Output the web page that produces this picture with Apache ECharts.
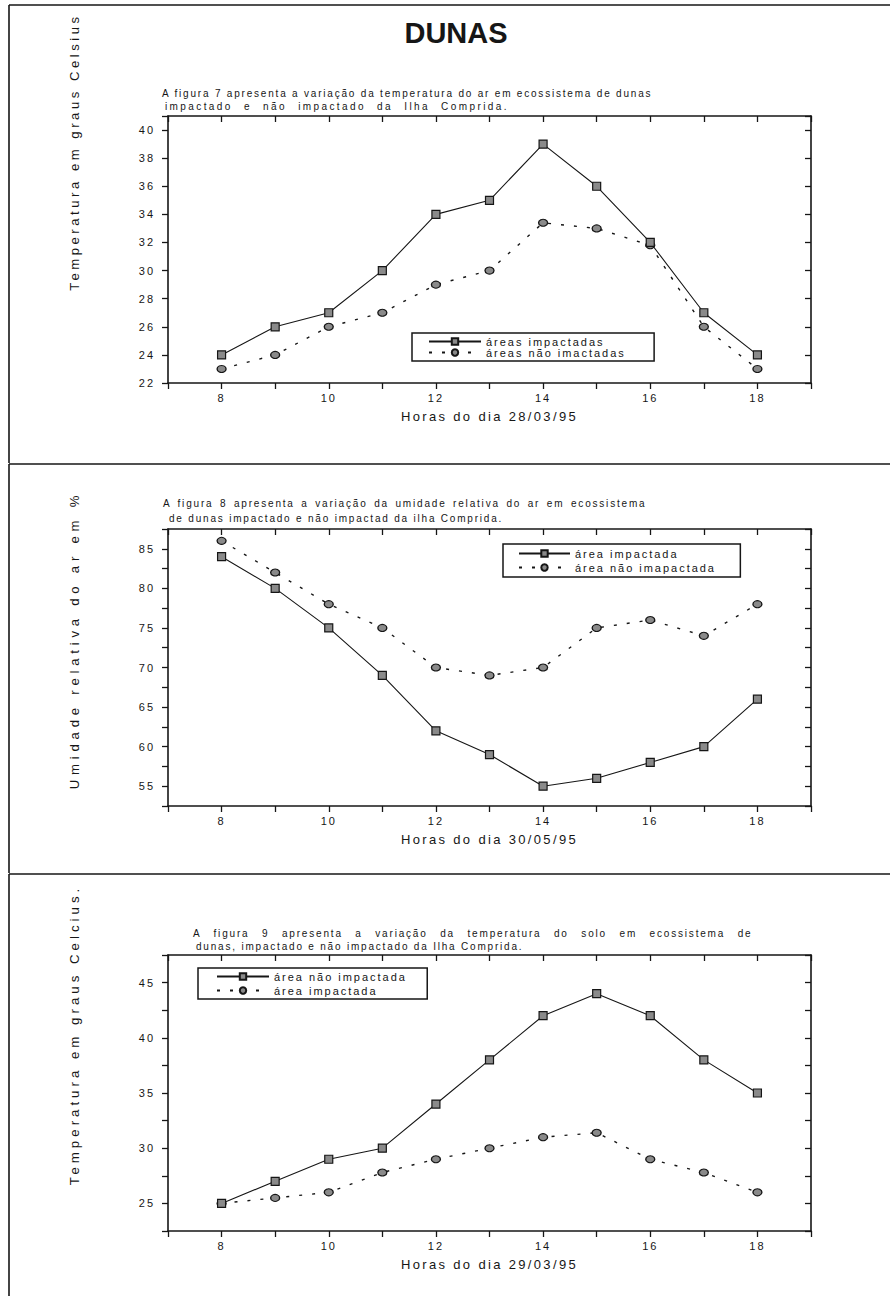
<!DOCTYPE html>
<html><head><meta charset="utf-8">
<script src="https://cdn.jsdelivr.net/npm/echarts@6/dist/echarts.min.js"></script>
<style>
html,body{margin:0;padding:0;background:#fff;width:890px;height:1296px;overflow:hidden}
.p{position:absolute;left:0;width:890px}
.p text{letter-spacing:0.18em}
.p text[style*="bold"]{letter-spacing:0}
.p text[style*="13.1px"]{letter-spacing:0.27em}
.p text[style*="13.2px"]{letter-spacing:0.36em}
.p text[style*="13.3px"]{letter-spacing:0.3em}
.p text[style*="10.01px"]{letter-spacing:0.24em;word-spacing:6px}
.p text[style*="10.02px"]{word-spacing:2px}
.p text[style*="10.03px"]{word-spacing:8px}
</style></head><body>
<div id="c1" class="p" style="top:0;height:463px"></div>
<div id="c2" class="p" style="top:463px;height:410px"></div>
<div id="c3" class="p" style="top:873px;height:423px"></div>
<script>
// ---- data ----
const hours = [8, 9, 10, 11, 12, 13, 14, 15, 16, 17, 18];
const xTickLabels = [8, 10, 12, 14, 16, 18];

const fig7Impacted    = [24, 26, 27, 30, 34, 35, 39, 36, 32, 27, 24];
const fig7NotImpacted = [23, 24, 26, 27, 29, 30, 33.4, 33, 31.8, 26, 23];
const fig7YTicks = [22, 24, 26, 28, 30, 32, 34, 36, 38, 40];

const fig8Impacted    = [84, 80, 75, 69, 62, 59, 55, 56, 58, 60, 66];
const fig8NotImpacted = [86, 82, 78, 75, 70, 69, 70, 75, 76, 74, 78];
const fig8YTicks = [55, 60, 65, 70, 75, 80, 85];

const fig9NotImpacted = [25, 27, 29, 30, 34, 38, 42, 44, 42, 38, 35];
const fig9Impacted    = [25, 25.5, 26, 27.8, 29, 30, 31, 31.4, 29, 27.8, 26];
const fig9YTicks = [25, 30, 35, 40, 45];

const fig7Names = ['áreas impactadas', 'áreas não imactadas'];
const fig8Names = ['área impactada', 'área não imapactada'];
const fig9Names = ['área não impactada', 'área impactada'];

// ---- helpers ----
const INK = '#161616';
const FONT = '"Liberation Sans", Arial, sans-serif';

function pairs(vals) { return hours.map((h, i) => [h, vals[i]]); }

function lineSeries(name, vals, solid) {
  return {
    type: 'line', name: name, data: pairs(vals),
    xAxisIndex: 0, yAxisIndex: 0,
    symbol: solid ? 'rect' : 'circle',
    symbolSize: solid ? 8 : [9, 7],
    itemStyle: { color: '#8a8a8a', borderColor: INK, borderWidth: 1.2 },
    lineStyle: { color: INK, width: solid ? 1.1 : 1.4, type: solid ? 'solid' : [3, 10] },
    emphasis: { disabled: true }, animation: false, z: solid ? 3 : 2
  };
}

function axisLineStyle() { return { show: true, lineStyle: { color: INK, width: 1.6 } }; }

function makeOption(cfg) {
  const yTicks = cfg.yTicks;
  return {
    animation: false,
    textStyle: { fontFamily: FONT },
    grid: { left: 168, width: 643, top: cfg.gridTop, height: cfg.gridH, containLabel: false },
    xAxis: [
      { type: 'value', position: 'bottom', min: 7, max: 19, interval: 1,
        axisLine: axisLineStyle(),
        axisTick: { show: true, inside: false, length: 6, lineStyle: { color: INK, width: 1.3 } },
        axisLabel: { color: INK, fontSize: 11, margin: 9, fontFamily: FONT,
          formatter: v => xTickLabels.includes(v) ? String(v) : '' },
        splitLine: { show: false },
        name: cfg.xName, nameLocation: 'middle', nameGap: 27,
        nameTextStyle: { color: INK, fontSize: 13, fontFamily: FONT } },
      { type: 'value', position: 'top', min: 7, max: 19, interval: 1,
        axisLine: axisLineStyle(),
        axisTick: { show: true, inside: true, length: 6, lineStyle: { color: INK, width: 1.3 } },
        axisLabel: { show: false }, splitLine: { show: false } }
    ],
    yAxis: [
      { type: 'value', position: 'left', min: cfg.yMin, max: cfg.yMax, interval: cfg.yInt,
        axisLine: axisLineStyle(),
        axisTick: { show: true, inside: false, length: 6, lineStyle: { color: INK, width: 1.3 } },
        axisLabel: { color: INK, fontSize: 11, margin: 13, fontFamily: FONT,
          formatter: v => yTicks.includes(v) ? String(v) : '' },
        splitLine: { show: false } },
      { type: 'value', position: 'right', min: cfg.yMin, max: cfg.yMax, interval: cfg.yInt,
        axisLine: axisLineStyle(),
        axisTick: { show: true, inside: true, length: 6, lineStyle: { color: INK, width: 1.3 } },
        axisLabel: { show: false }, splitLine: { show: false } }
    ],
    legend: {
      data: cfg.names, orient: 'vertical', left: cfg.legLeft, top: cfg.legTop,
      selectedMode: false, backgroundColor: '#fff',
      borderColor: INK, borderWidth: 1.5, borderRadius: 0,
      padding: cfg.legPad, itemGap: cfg.legGap, itemWidth: cfg.legIconW, itemHeight: 8,
      textStyle: { color: INK, fontSize: 11, fontFamily: FONT }
    },
    series: [
      lineSeries(cfg.names[0], cfg.s1, true),
      lineSeries(cfg.names[1], cfg.s2, false)
    ],
    graphic: cfg.graphic
  };
}

function frameLines(topY, bottomY) {
  return [
    { type: 'line', shape: { x1: 9, y1: topY, x2: 890, y2: topY }, style: { stroke: INK, lineWidth: 1.6 }, silent: true },
    { type: 'line', shape: { x1: 9, y1: topY, x2: 9, y2: bottomY }, style: { stroke: INK, lineWidth: 1.6 }, silent: true }
  ];
}
function txt(text, x, y, size, opts) {
  opts = opts || {};
  return { type: 'text', x: x, y: y, rotation: opts.rot || 0, silent: true,
    style: { text: text, font: (opts.weight || 'normal') + ' ' + size + 'px ' + FONT,
      fill: INK, align: opts.align || 'left', verticalAlign: 'middle' } };
}

const YT_X = 74;

// ---- figure 7 ----
const c1 = echarts.init(document.getElementById('c1'), null, { renderer: 'svg' });
c1.setOption(makeOption({
  gridTop: 116, gridH: 267, yMin: 22, yMax: 41, yInt: 2, yTicks: fig7YTicks,
  xName: 'Horas do dia 28/03/95', names: fig7Names, s1: fig7Impacted, s2: fig7NotImpacted,
  legLeft: 412, legTop: 333, legPad: [3, 66, 3, 16], legGap: 0, legIconW: 52,
  graphic: frameLines(5, 463).concat([
    txt('DUNAS', 456, 33, 29, { weight: 'bold', align: 'center' }),
    txt('A figura 7 apresenta a variação da temperatura do ar em ecossistema de dunas', 162, 93, 10),
    txt('impactado e não impactado da Ilha Comprida.', 165, 106, 10.01),
    txt('Temperatura em graus Celsius', YT_X, 152, 13.1, { rot: Math.PI / 2, align: 'center' })
  ])
}));

// ---- figure 8 ----
const c2 = echarts.init(document.getElementById('c2'), null, { renderer: 'svg' });
c2.setOption(makeOption({
  gridTop: 66, gridH: 277, yMin: 52.5, yMax: 87.5, yInt: 2.5, yTicks: fig8YTicks,
  xName: 'Horas do dia 30/05/95', names: fig8Names, s1: fig8Impacted, s2: fig8NotImpacted,
  legLeft: 503, legTop: 81, legPad: [4, 62, 4, 15], legGap: 3, legIconW: 51,
  graphic: frameLines(1, 410).concat([
    txt('A figura 8 apresenta a variação da umidade relativa do ar em ecossistema', 163, 40, 10.02),
    txt('de dunas impactado e não impactad da ilha Comprida.', 169, 55, 10),
    txt('Umidade relativa do ar em %', YT_X, 177, 13.2, { rot: Math.PI / 2, align: 'center' })
  ])
}));

// ---- figure 9 ----
const c3 = echarts.init(document.getElementById('c3'), null, { renderer: 'svg' });
c3.setOption(makeOption({
  gridTop: 82, gridH: 276, yMin: 22.5, yMax: 47.5, yInt: 2.5, yTicks: fig9YTicks,
  xName: 'Horas do dia 29/03/95', names: fig9Names, s1: fig9NotImpacted, s2: fig9Impacted,
  legLeft: 198, legTop: 95, legPad: [3, 56, 3, 18], legGap: 3, legIconW: 52,
  graphic: frameLines(1, 423).concat([
    txt('A figura 9 apresenta a variação da temperatura do solo em ecossistema de', 193, 60, 10.03),
    txt('dunas, impactado e não impactado da Ilha Comprida.', 196, 73, 10),
    txt('Temperatura em graus Celcius.', YT_X, 162, 13.3, { rot: Math.PI / 2, align: 'center' })
  ])
}));
</script>
</body></html>
